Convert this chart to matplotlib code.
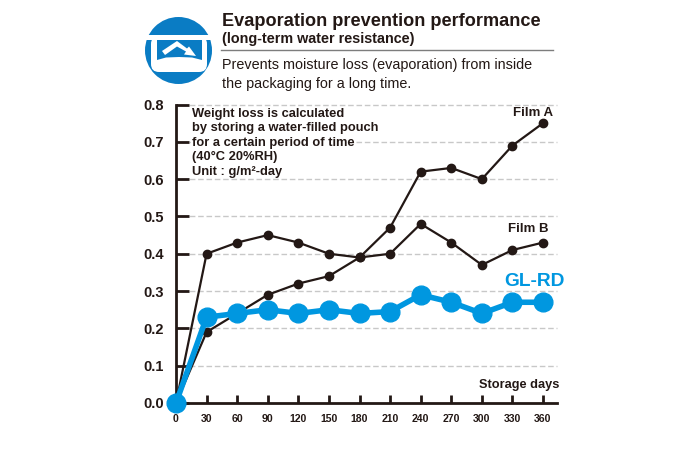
import matplotlib
matplotlib.use('Agg')
import matplotlib.pyplot as plt
from matplotlib.patches import Circle, Polygon, FancyBboxPatch

plt.rcParams['font.family'] = ['Liberation Sans', 'DejaVu Sans']

days = [0, 30, 60, 90, 120, 150, 180, 210, 240, 270, 300, 330, 360]
film_a = [0.0, 0.19, 0.24, 0.29, 0.32, 0.34, 0.39, 0.47, 0.62, 0.63, 0.60, 0.69, 0.75]
film_b = [0.0, 0.40, 0.43, 0.45, 0.43, 0.40, 0.39, 0.40, 0.48, 0.43, 0.37, 0.41, 0.43]
gl_rd = [0.0, 0.23, 0.24, 0.25, 0.24, 0.25, 0.24, 0.245, 0.29, 0.27, 0.24, 0.27, 0.27]
y_ticks = [0.0, 0.1, 0.2, 0.3, 0.4, 0.5, 0.6, 0.7, 0.8]

W, H = 699, 450
DARK = '#231815'
BLUE = '#0097e0'
ICON = '#0a7cc4'

fig = plt.figure(figsize=(W / 100, H / 100), dpi=100)
ax = fig.add_axes([176 / W, 1 - 403 / H, (557 - 176) / W, (403 - 104.5) / H])

# dashed grid
for v in y_ticks[1:]:
    ax.plot([5, 374], [v, v], color='#c8c8c8', lw=1, dashes=(4, 2), zorder=1, clip_on=False)

ax.plot(days, film_a, color=DARK, lw=1.6, marker='o', ms=6, zorder=3, clip_on=False)
ax.plot(days, film_b, color=DARK, lw=1.6, marker='o', ms=6, zorder=3, clip_on=False)
ax.plot(days, gl_rd, color=BLUE, lw=4, marker='o', ms=13.5, zorder=4, clip_on=False)

ax.set_xlim(0, 373.7)
ax.set_ylim(0, 0.8)
ax.set_xticks(days)
ax.set_xticklabels([str(d) for d in days], fontsize=7.6, fontweight='bold', color=DARK)
ax.set_yticks(y_ticks)
ax.set_yticklabels(['%.1f' % v for v in y_ticks], fontsize=10.5, fontweight='bold', color=DARK)
ax.tick_params(axis='x', direction='out', length=0, pad=8)
ax.tick_params(axis='y', direction='in', length=9, width=2, color=DARK, pad=9)
for d in days[1:]:
    ax.plot([d, d], [0, 0.022], color=DARK, lw=2, zorder=2, solid_capstyle='butt')
for s in ['top', 'right']:
    ax.spines[s].set_visible(False)
for s in ['left', 'bottom']:
    ax.spines[s].set_linewidth(2)
    ax.spines[s].set_color(DARK)

# overlay in pixel coords for header, icon and labels
ov = fig.add_axes([0, 0, 1, 1], zorder=10)
ov.set_xlim(0, W)
ov.set_ylim(H, 0)
ov.axis('off')
ov.patch.set_alpha(0)

ov.add_patch(Circle((178.5, 50.5), 33.5, color=ICON, lw=0))
# white tray outline, then the blue inside of it
ov.add_patch(FancyBboxPatch((151, 36), 56, 36, boxstyle='round,pad=0,rounding_size=8',
                            fc='white', ec='none'))
ov.add_patch(Polygon([[146, 35], [211, 35], [211, 40], [146, 40]], color='white', lw=0))
ov.add_patch(Polygon([[157, 40], [202, 40], [202, 60], [192, 57.5], [179, 57], [166, 57.5], [157, 60]],
                     color=ICON, lw=0))
ov.add_patch(Polygon([[162, 51], [177, 41], [187, 48.5], [189, 46.5], [196, 56], [184, 54.5],
                     [186, 51.5], [177, 46.5], [165, 55]], color='white', lw=0))

ov.plot([221, 553], [49.5, 49.5], color='#7d7d7d', lw=1)
ov.text(222, 21, 'Evaporation prevention performance', fontsize=13.1, fontweight='bold',
        color=DARK, va='center')
ov.text(222, 38.5, '(long-term water resistance)', fontsize=10.4, fontweight='bold',
        color=DARK, va='center')
ov.text(222, 65, 'Prevents moisture loss (evaporation) from inside', fontsize=10.35,
        color=DARK, va='center')
ov.text(222, 84, 'the packaging for a long time.', fontsize=10.35, color=DARK, va='center')

note = ['Weight loss is calculated', 'by storing a water-filled pouch',
        'for a certain period of time', '(40°C 20%RH)', 'Unit : g/m²-day']
for i, line in enumerate(note):
    ov.text(192, 114 + i * 14.4, line, fontsize=9.3, fontweight='bold', color=DARK, va='center',
            bbox=dict(fc='white', ec='none', pad=0.5))

ov.text(553, 112.5, 'Film A', fontsize=9.5, fontweight='bold', color=DARK, va='center', ha='right')
ov.text(548, 229, 'Film B', fontsize=9.5, fontweight='bold', color=DARK, va='center', ha='right')
ov.text(565, 281, 'GL-RD', fontsize=13.8, fontweight='bold', color=BLUE, va='center', ha='right')
ov.text(559, 385, 'Storage days', fontsize=9.2, fontweight='bold', color=DARK, va='center', ha='right')

fig.savefig('out.png', dpi=100)
